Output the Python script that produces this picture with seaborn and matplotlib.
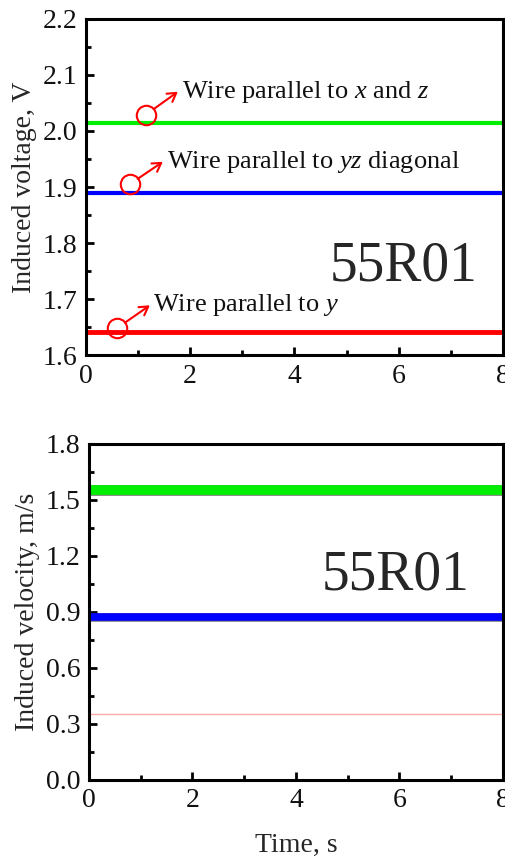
import matplotlib
matplotlib.use("Agg")
import matplotlib.pyplot as plt
import seaborn as sns
import pandas as pd
from matplotlib.ticker import MultipleLocator

# Measured signals (flat over the whole record)
time_s = [0.0, 8.0]
series = ["x and z", "yz diagonal", "y"]
voltage_v = [2.015, 1.89, 1.642]
velocity_ms = [1.553, 0.872, 0.352]
colors = ["#00ee00", "#0000ff", "#ff0000"]
velocity_colors = ["#00ee00", "#0000ff", "#ffaaaa"]
voltage_widths = [3.0, 3.0, 3.5]
velocity_widths = [7.0, 5.5, 1.0]
notes = ["Wire parallel to $x$ and $z$", "Wire parallel to $yz$ diagonal", "Wire parallel to $y$"]
sample = "55R01"

sns.set_theme(style="ticks")
plt.rcParams["font.family"] = ["Liberation Serif", "DejaVu Serif"]
plt.rcParams["mathtext.fontset"] = "custom"
plt.rcParams["mathtext.rm"] = "Liberation Serif"
plt.rcParams["mathtext.it"] = "Liberation Serif:italic"

def frame(n, vals):
    return pd.DataFrame({"t": time_s * 1, "v": [vals[n]] * len(time_s)})

fig = plt.figure(figsize=(5.05, 8.58), dpi=100)
ax1 = fig.add_axes([0.170, 0.586, 0.826, 0.392])
ax2 = fig.add_axes([0.176, 0.091, 0.820, 0.392])

for i in range(len(series)):
    sns.lineplot(data=frame(i, voltage_v), x="t", y="v", ax=ax1,
                 color=colors[i], linewidth=voltage_widths[i])
    if velocity_widths[i] > 2:
        sns.lineplot(data=frame(i, velocity_ms), x="t", y="v", ax=ax2,
                     color="#333333", linewidth=velocity_widths[i] + 0.8, alpha=0.6)
    sns.lineplot(data=frame(i, velocity_ms), x="t", y="v", ax=ax2,
                 color=velocity_colors[i], linewidth=velocity_widths[i])

# circled callouts with arrows
circle_xy = [(1.15, 2.029), (0.84, 1.905), (0.595, 1.648)]
tip_xy = [(1.765, 2.070), (1.477, 1.945), (1.228, 1.689)]
text_xy = [(1.84, 2.070), (1.554, 1.945), (1.285, 1.689)]
for c, t, tx, note in zip(circle_xy, tip_xy, text_xy, notes):
    ax1.plot([c[0]], [c[1]], marker="o", markersize=14, mfc="none",
             mec="#ff0000", mew=1.5)
    ax1.annotate("", xy=t, xytext=c,
                 arrowprops=dict(arrowstyle="->,head_length=0.5,head_width=0.3",
                                 color="#ff0000", lw=1.5, shrinkA=7, shrinkB=0))
    ax1.text(tx[0], tx[1], note, fontsize=19, va="center", ha="left", color="#111111")

ax1.text(7.52, 1.733, sample, fontsize=40, ha="right", va="baseline")
ax2.text(7.36, 1.018, sample, fontsize=40, ha="right", va="baseline")

ax1.set_xlim(0, 8)
ax1.set_ylim(1.6, 2.2)
ax1.yaxis.set_major_locator(MultipleLocator(0.1))
ax1.yaxis.set_minor_locator(MultipleLocator(0.05))
ax1.set_ylabel("Induced voltage, V", fontsize=20)
ax1.set_xlabel("")

ax2.set_xlim(0, 8)
ax2.set_ylim(0, 1.8)
ax2.yaxis.set_major_locator(MultipleLocator(0.3))
ax2.yaxis.set_minor_locator(MultipleLocator(0.15))
ax2.set_ylabel("Induced velocity, m/s", fontsize=20)
ax2.set_xlabel("Time, s", fontsize=20, labelpad=14)

for ax in (ax1, ax2):
    ax.xaxis.set_major_locator(MultipleLocator(2))
    ax.xaxis.set_minor_locator(MultipleLocator(1))
    ax.yaxis.set_major_formatter(matplotlib.ticker.FormatStrFormatter("%.1f"))
    ax.tick_params(which="both", direction="in", labelsize=20, width=2,
                   color="black", labelcolor="#111111", pad=6)
    ax.tick_params(which="major", length=6)
    ax.tick_params(which="minor", length=3.5)
    for s in ax.spines.values():
        s.set_linewidth(2.2)
        s.set_color("black")
        s.set_visible(True)
    ax.get_legend() and ax.get_legend().remove()

fig.savefig("out.png", dpi=100)
